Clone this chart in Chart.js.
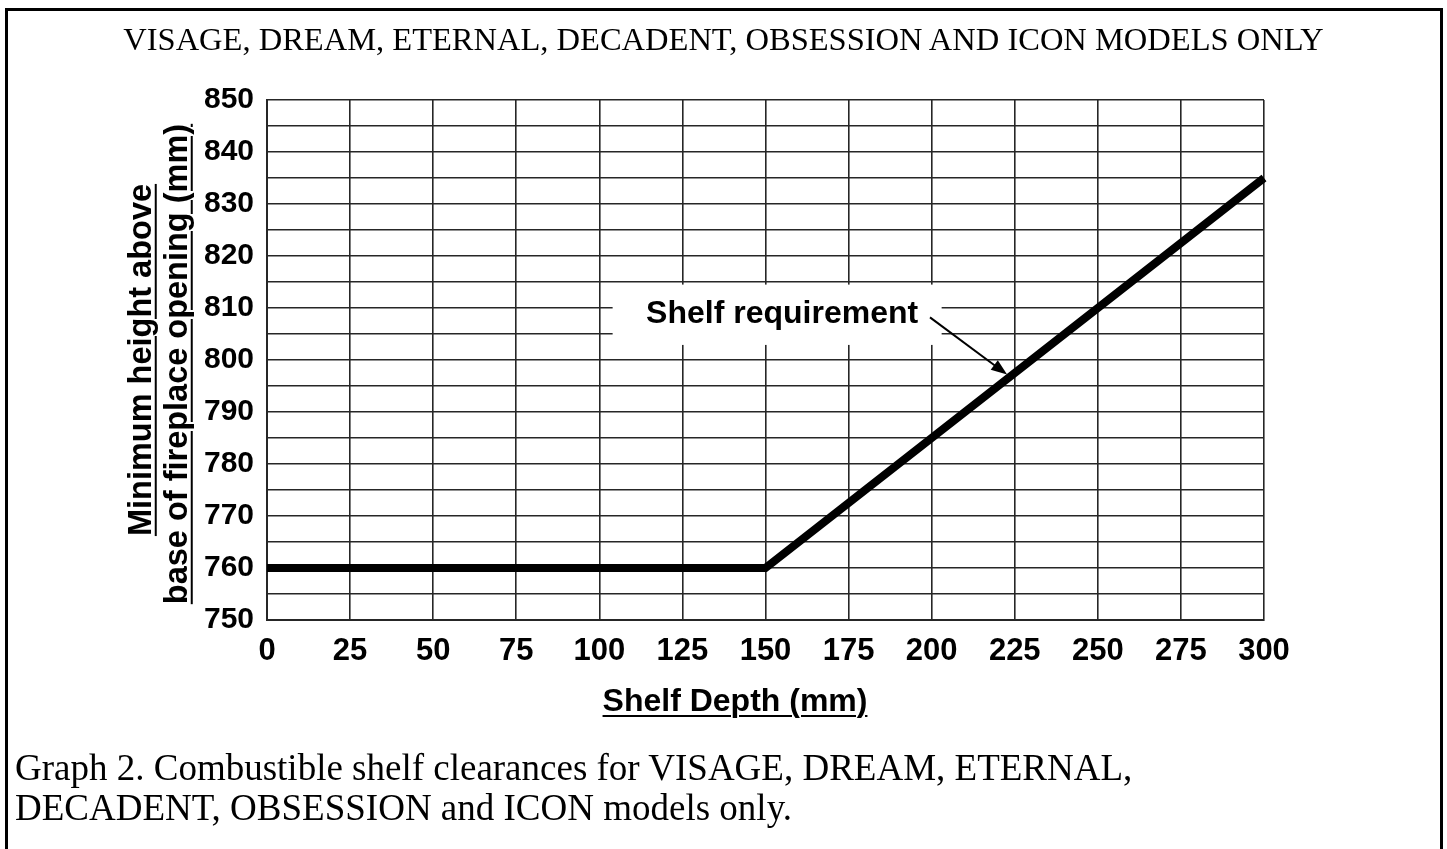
<!DOCTYPE html>
<html>
<head>
<meta charset="utf-8">
<script src="https://cdn.jsdelivr.net/npm/chart.js@4/dist/chart.umd.min.js"></script>
<style>
  html, body { margin: 0; padding: 0; background: #fff; }
  body { width: 1447px; height: 849px; position: relative; overflow: hidden; }
  #frame { position: absolute; left: 5px; top: 8px; width: 1432px; height: 900px; border: 3px solid #000; }
  #wrap { position: absolute; left: 0; top: 0; width: 1447px; height: 849px; }
  #title { position: absolute; left: 0; width: 1447px; top: 20px; text-align: center;
           font-family: "Liberation Serif", "Times New Roman", serif; font-size: 32.5px; line-height: 38px; color: #000; white-space: nowrap; }
  #caption { position: absolute; left: 15px; top: 748px; font-family: "Liberation Serif", "Times New Roman", serif;
             font-size: 37px; line-height: 40px; color: #000; white-space: nowrap; }
  .ytitle { position: absolute; font-family: "Liberation Sans", Arial, sans-serif; font-weight: bold; font-size: 32.5px;
            text-decoration: underline; text-underline-offset: 4px; text-decoration-thickness: 2px;
            white-space: nowrap; transform-origin: center center; transform: translate(-50%, -50%) rotate(-90deg); line-height: 1; }
  #xtitle { position: absolute; left: 735px; top: 700px; transform: translate(-50%, -50%);
            font-family: "Liberation Sans", Arial, sans-serif; font-weight: bold; font-size: 32px;
            text-decoration: underline; text-underline-offset: 4px; text-decoration-thickness: 2px; white-space: nowrap; line-height: 1; }
</style>
</head>
<body>
<div id="frame"></div>
<div id="wrap"><canvas id="c" width="1447" height="849"></canvas></div>
<div id="title">VISAGE, DREAM, ETERNAL, DECADENT, OBSESSION AND ICON MODELS ONLY</div>
<div class="ytitle" style="left:140px; top:360px;">Minimum height above</div>
<div class="ytitle" style="left:176px; top:364px;">base of fireplace opening (mm)</div>
<div id="xtitle">Shelf Depth (mm)</div>
<div id="caption">Graph 2. Combustible shelf clearances for VISAGE, DREAM, ETERNAL,<br>DECADENT, OBSESSION and ICON models only.</div>
<script>
// ---- data ----
const shelfDepth = [0, 150, 300];          // mm
const minHeight = [760, 760, 835];         // mm
const xTickValues = [0, 25, 50, 75, 100, 125, 150, 175, 200, 225, 250, 275, 300];
const yTickLabels = [750, 760, 770, 780, 790, 800, 810, 820, 830, 840, 850];
const annotationText = "Shelf requirement";

// annotation anchors in data units
const annoBox = { x0: 104, x1: 203, y0: 814.5, y1: 802.9 };
const annoTextAt = { x: 155, y: 808.8 };
const annoArrowFrom = { x: 199.5, y: 808.2 };
const annoArrowTo = { x: 222.7, y: 797.2 };

const gridColor = '#262626';
const xTickFont = { family: "'Liberation Sans', Arial, sans-serif", size: 31, weight: 'bold' };
const yTickFont = { family: "'Liberation Sans', Arial, sans-serif", size: 30, weight: 'bold' };

const annotationPlugin = {
  id: 'shelfAnno',
  beforeDatasetsDraw(chart) {
    const { ctx, scales: { x, y } } = chart;
    ctx.save();
    ctx.fillStyle = '#fff';
    const bx0 = x.getPixelForValue(annoBox.x0), bx1 = x.getPixelForValue(annoBox.x1);
    const by0 = y.getPixelForValue(annoBox.y0), by1 = y.getPixelForValue(annoBox.y1);
    ctx.fillRect(bx0, by0, bx1 - bx0, by1 - by0);
    ctx.fillStyle = '#000';
    ctx.font = "bold 32px 'Liberation Sans', Arial, sans-serif";
    ctx.textAlign = 'center';
    ctx.textBaseline = 'middle';
    ctx.fillText(annotationText, x.getPixelForValue(annoTextAt.x), y.getPixelForValue(annoTextAt.y));
    ctx.restore();
  },
  afterDatasetsDraw(chart) {
    const { ctx, scales: { x, y } } = chart;
    const fx = x.getPixelForValue(annoArrowFrom.x), fy = y.getPixelForValue(annoArrowFrom.y);
    const tx = x.getPixelForValue(annoArrowTo.x), ty = y.getPixelForValue(annoArrowTo.y);
    const ang = Math.atan2(ty - fy, tx - fx);
    const hl = 16, hw = 6;
    ctx.save();
    ctx.strokeStyle = '#000';
    ctx.fillStyle = '#000';
    ctx.lineWidth = 2;
    ctx.beginPath();
    ctx.moveTo(fx, fy);
    ctx.lineTo(tx - Math.cos(ang) * hl * 0.8, ty - Math.sin(ang) * hl * 0.8);
    ctx.stroke();
    ctx.beginPath();
    ctx.moveTo(tx, ty);
    ctx.lineTo(tx - Math.cos(ang) * hl - Math.sin(ang) * hw, ty - Math.sin(ang) * hl + Math.cos(ang) * hw);
    ctx.lineTo(tx - Math.cos(ang) * hl + Math.sin(ang) * hw, ty - Math.sin(ang) * hl - Math.cos(ang) * hw);
    ctx.closePath();
    ctx.fill();
    ctx.restore();
  }
};

new Chart(document.getElementById('c'), {
  type: 'line',
  data: {
    datasets: [{
      label: annotationText,
      data: shelfDepth.map((d, i) => ({ x: d, y: minHeight[i] })),
      borderColor: '#000',
      borderWidth: 8,
      pointRadius: 0,
      tension: 0,
      borderCapStyle: 'butt',
      borderJoinStyle: 'miter',
      clip: false
    }]
  },
  options: {
    responsive: false,
    animation: false,
    layout: { padding: { left: 0, top: 100, right: 183, bottom: 0 } },
    plugins: { legend: { display: false }, tooltip: { enabled: false }, title: { display: false } },
    scales: {
      x: {
        type: 'linear',
        min: xTickValues[0], max: xTickValues[xTickValues.length - 1],
        afterBuildTicks: s => { s.ticks = xTickValues.map(v => ({ value: v })); },
        afterFit: s => { s.height = 229; },
        ticks: { font: xTickFont, color: '#000', padding: 13, maxRotation: 0, autoSkip: false },
        grid: { color: gridColor, lineWidth: 1.6, drawTicks: false },
        border: { display: true, color: gridColor, width: 2 }
      },
      y: {
        type: 'linear',
        min: yTickLabels[0], max: yTickLabels[yTickLabels.length - 1],
        afterBuildTicks: s => {
          const t = [];
          for (let i = 0; i < yTickLabels.length; i++) {
            t.push({ value: yTickLabels[i] });
            if (i < yTickLabels.length - 1) t.push({ value: (yTickLabels[i] + yTickLabels[i + 1]) / 2 });
          }
          s.ticks = t;
        },
        afterFit: s => { s.width = 267; },
        ticks: {
          font: yTickFont, color: '#000', padding: 13, autoSkip: false,
          callback: v => (yTickLabels.includes(v) ? String(v) : '')
        },
        grid: { color: gridColor, lineWidth: 1.6, drawTicks: false },
        border: { display: true, color: gridColor, width: 2 }
      }
    }
  },
  plugins: [annotationPlugin]
});
</script>
</body>
</html>
